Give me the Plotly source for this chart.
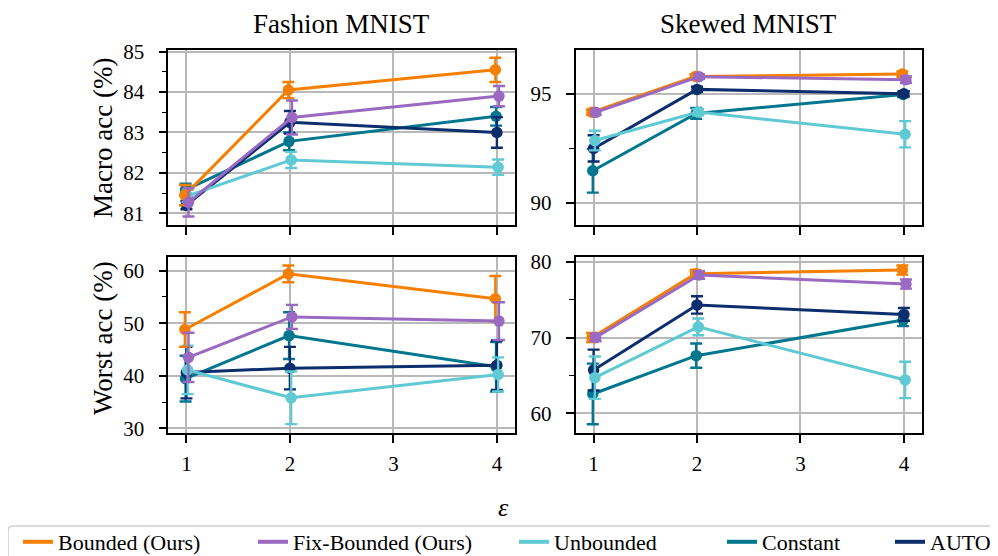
import plotly.graph_objects as go

# ---------------- data ----------------
eps = [1, 2, 4]
methods = ["Bounded (Ours)", "Fix-Bounded (Ours)", "Unbounded", "Constant", "AUTO"]
panel_titles = ["Fashion MNIST", "Skewed MNIST"]
row_titles = ["Macro acc (%)", "Worst acc (%)"]
x_label = "ε"

fashion_macro_mean = [
    [81.45, 84.05, 84.55],
    [81.27, 83.37, 83.90],
    [81.43, 82.32, 82.14],
    [81.58, 82.78, 83.40],
    [81.20, 83.25, 83.00],
]
fashion_macro_err = [
    [0.25, 0.20, 0.30],
    [0.35, 0.42, 0.25],
    [0.15, 0.20, 0.19],
    [0.15, 0.22, 0.23],
    [0.10, 0.28, 0.38],
]
skewed_macro_mean = [
    [94.16, 95.79, 95.90],
    [94.15, 95.78, 95.64],
    [92.86, 94.16, 93.15],
    [91.48, 94.10, 94.97],
    [92.50, 95.20, 95.00],
]
skewed_macro_err = [
    [0.12, 0.10, 0.12],
    [0.12, 0.10, 0.15],
    [0.45, 0.15, 0.60],
    [1.00, 0.25, 0.12],
    [0.60, 0.12, 0.12],
]
fashion_worst_mean = [
    [48.80, 59.40, 54.65],
    [43.50, 51.20, 50.40],
    [41.10, 35.80, 40.25],
    [39.45, 47.65, 41.70],
    [40.60, 41.45, 42.00],
]
fashion_worst_err = [
    [3.30, 1.60, 4.35],
    [4.70, 2.30, 3.60],
    [4.60, 5.00, 3.25],
    [4.35, 4.45, 4.70],
    [4.90, 4.05, 4.70],
]
skewed_worst_mean = [
    [70.00, 78.40, 78.90],
    [70.00, 78.25, 77.05],
    [64.70, 71.40, 64.40],
    [62.55, 67.60, 72.30],
    [65.70, 74.30, 73.05],
]
skewed_worst_err = [
    [0.60, 0.50, 0.60],
    [0.50, 0.50, 0.60],
    [2.80, 1.10, 2.40],
    [4.00, 1.60, 0.80],
    [2.70, 1.15, 0.85],
]

# ---------------- style ----------------
# the page body has an 8px default margin; compensate so that screen pixels match
OX, OY = 8, 8
W, H = 998 - OX, 556 - OY
colors = ["#f57f00", "#9a69c2", "#5fc9d4", "#00778e", "#0d2e6c"]
dodge = [-0.015, 0.02, 0.012, -0.008, 0.0]
draw_order = [3, 4, 2, 0, 1]
FONT = "Liberation Serif, Times New Roman, serif"


def fx(p):
    return (p - OX) / W


def fy(p):
    return 1 - (p - OY) / H


xdom = [[fx(168.3), fx(515)], [fx(575.5), fx(922)]]
ydom = [[fy(225), fy(50)], [fy(432.7), fy(257.3)]]
yranges = [[80.71, 85.04], [89.0, 97.0], [29.16, 62.55], [57.44, 80.58]]
ydticks = [1, 5, 10, 10]
panels = [
    (fashion_macro_mean, fashion_macro_err),
    (skewed_macro_mean, skewed_macro_err),
    (fashion_worst_mean, fashion_worst_err),
    (skewed_worst_mean, skewed_worst_err),
]

fig = go.Figure()
legend_ids = ["legend", "legend2", "legend3", "legend4", "legend5"]

for p, (means, errs) in enumerate(panels):
    suffix = "" if p == 0 else str(p + 1)
    for m in draw_order:
        fig.add_trace(go.Scatter(
            x=[e + dodge[m] for e in eps],
            y=means[m],
            error_y=dict(type="data", array=errs[m], color=colors[m],
                         thickness=2.4, width=6),
            mode="lines+markers",
            name=methods[m],
            line=dict(color=colors[m], width=3),
            marker=dict(color=colors[m], size=11.5),
            xaxis="x" + suffix, yaxis="y" + suffix,
            showlegend=False,
        ))

# legend-only entries (line handles)
for m in range(len(methods)):
    fig.add_trace(go.Scatter(
        x=[None], y=[None], mode="lines", name=methods[m],
        line=dict(color=colors[m], width=4),
        showlegend=True, legend=legend_ids[m],
    ))

tickfont = dict(family=FONT, size=21, color="black")
layout = dict(
    width=W, height=H,
    margin=dict(l=0, r=0, t=0, b=0, autoexpand=False),
    paper_bgcolor="white", plot_bgcolor="white",
    font=dict(family=FONT, color="black"),
)
for p in range(4):
    r, c = divmod(p, 2)
    suffix = "" if p == 0 else str(p + 1)
    layout["xaxis" + suffix] = dict(
        domain=xdom[c], anchor="y" + suffix, range=[0.825, 4.175],
        tickmode="array", tickvals=[1, 2, 3, 4],
        showticklabels=(r == 1), tickfont=tickfont,
        ticks="outside", ticklen=8, tickwidth=1.6, tickcolor="black",
        ticklabelstandoff=3,
        showgrid=True, gridcolor="#b9b9b9", gridwidth=1.6,
        showline=True, linecolor="black", linewidth=1.6, mirror=True,
        zeroline=False,
    )
    layout["yaxis" + suffix] = dict(
        domain=ydom[r], anchor="x" + suffix, range=yranges[p],
        dtick=ydticks[p], tick0=0, tickfont=tickfont,
        ticks="outside", ticklen=8, tickwidth=1.6, tickcolor="black",
        ticklabelstandoff=10,
        minor=dict(dtick=ydticks[p] / 2, tick0=0, ticks="outside", ticklen=5,
                   tickwidth=1.4, tickcolor="black", showgrid=False),
        showgrid=True, gridcolor="#b9b9b9", gridwidth=1.6,
        showline=True, linecolor="black", linewidth=1.6, mirror=True,
        zeroline=False,
    )

legend_text_x = [58, 293, 554, 762, 930]
for i, lid in enumerate(legend_ids):
    layout[lid] = dict(
        x=fx(legend_text_x[i] - 40), y=fy(521), xanchor="left", yanchor="top",
        orientation="h", bgcolor="rgba(0,0,0,0)", borderwidth=0,
        font=dict(family=FONT, size=22, color="black"),
        itemwidth=30,
    )
fig.update_layout(**layout)

# legend frame
rx, ry = 5 / W, 5 / H
x0, x1, y0, y1 = fx(8), fx(1010), fy(600), fy(526)
path = (f"M {x0},{y0} L {x0},{y1 - ry} Q {x0},{y1} {x0 + rx},{y1} "
        f"L {x1 - rx},{y1} Q {x1},{y1} {x1},{y1 - ry} L {x1},{y0} Z")
fig.add_shape(type="path", path=path, xref="paper", yref="paper",
              line=dict(color="#d0d0d0", width=1.6), fillcolor="white", layer="below")

annots = []
for c in range(2):
    annots.append(dict(text=panel_titles[c], x=(xdom[c][0] + xdom[c][1]) / 2, y=fy(24),
                       xref="paper", yref="paper", showarrow=False,
                       font=dict(family=FONT, size=27, color="black"),
                       xanchor="center", yanchor="middle"))
row_centers = [138, 338]
for r in range(2):
    annots.append(dict(text=row_titles[r], x=fx(103), y=fy(row_centers[r]),
                       xref="paper", yref="paper", showarrow=False, textangle=-90,
                       font=dict(family=FONT, size=27, color="black"),
                       xanchor="center", yanchor="middle"))
annots.append(dict(text="<i>" + x_label + "</i>", x=fx(503), y=fy(507),
                   xref="paper", yref="paper", showarrow=False,
                   font=dict(family=FONT, size=26, color="black"),
                   xanchor="center", yanchor="middle"))
fig.update_layout(annotations=annots)

fig.write_html("out.html")
